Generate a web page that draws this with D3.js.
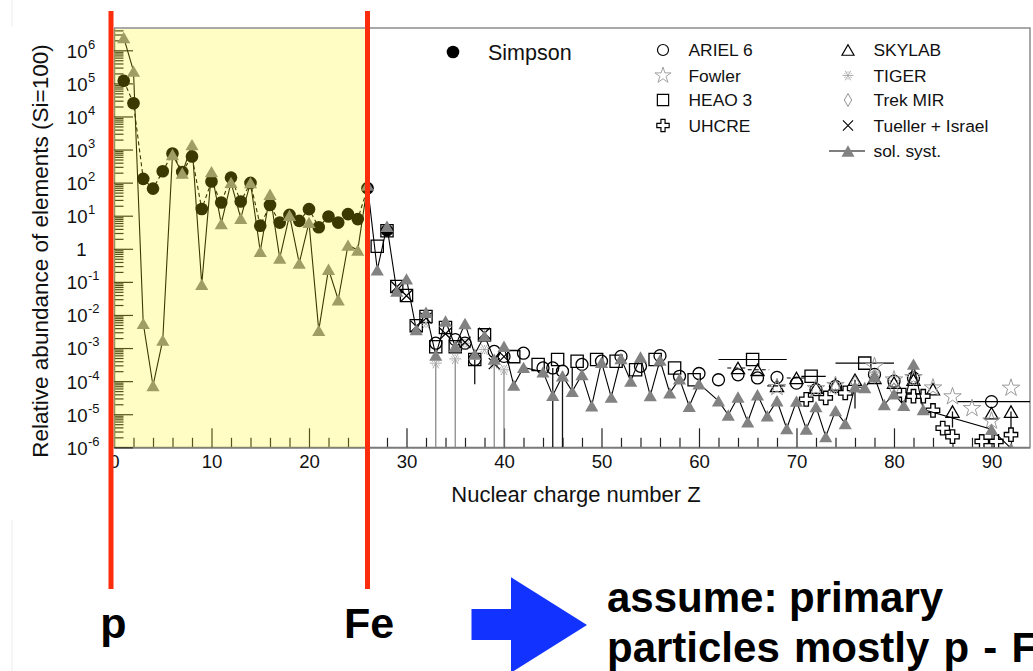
<!DOCTYPE html>
<html>
<head>
<meta charset="utf-8">
<script src="https://cdn.jsdelivr.net/npm/d3@7"></script>
<style>
  body { margin: 0; background: #fff; }
  svg { display: block; font-family: "Liberation Sans", Arial, Helvetica, sans-serif; }
</style>
</head>
<body>
<svg id="chart" width="1033" height="671"></svg>
<script>
// ---- data: abundances relative to Si = 100, as [Z, value] ----
const simpson = [[1,1.2e5],[2,2.5e4],[3,130],[4,66],[5,220],[6,760],[7,210],[8,620],[9,16],[10,108],
  [11,25],[12,142],[13,27],[14,98],[15,5.0],[16,21],[17,6.2],[18,10.6],[19,7.0],[20,15.8],
  [21,4.5],[22,9.5],[23,6.2],[24,11.2],[25,7.9],[26,68],[28,3.6]];

const solarSystem = [[1,2.43e6],[2,2.34e5],[3,5.55e-3],[4,7.37e-5],[5,1.73e-3],[6,708],[7,195],[8,1410],
  [9,0.0841],[10,215],[11,5.75],[12,102],[13,8.41],[14,100],[15,0.837],[16,44.5],[17,0.524],[18,10.3],
  [19,0.369],[20,6.29],[21,3.42e-3],[22,0.242],[23,0.0288],[24,1.29],[25,0.917],[26,83.8],[27,0.232],
  [28,4.78],[29,0.0527],[30,0.123],[31,3.6e-3],[32,0.0121],[33,6.09e-4],[34,6.58e-3],[35,1.13e-3],
  [36,5.52e-3],[37,6.57e-4],[38,2.36e-3],[39,4.61e-4],[40,1.13e-3],[41,7.55e-5],[42,2.6e-4],[44,1.9e-4],
  [45,3.71e-5],[46,1.44e-4],[47,4.91e-5],[48,1.58e-4],[49,1.81e-5],[50,3.73e-4],[51,3.29e-5],[52,4.82e-4],
  [53,9.98e-5],[54,5.39e-4],[55,3.67e-5],[56,4.35e-4],[57,4.41e-5],[58,1.17e-4],[59,1.74e-5],[60,8.36e-5],
  [62,2.54e-5],[63,9.51e-6],[64,3.32e-5],[65,5.91e-6],[66,3.86e-5],[67,8.99e-6],[68,2.55e-5],[69,3.7e-6],
  [70,2.48e-5],[71,3.57e-6],[72,1.7e-5],[73,2.1e-6],[74,1.28e-5],[75,5.25e-6],[76,6.74e-5],[77,6.45e-5],
  [78,1.36e-4],[79,1.96e-5],[80,4.13e-5],[81,1.85e-5],[82,3.26e-4],[83,1.39e-5],[90,3.51e-6],[92,9.31e-7]];

const heao3 = [[27,1.2],[28,3.5],[29,0.073],[30,0.039],[31,4.7e-3],[32,9e-3],[33,1.1e-3],[34,4.2e-3],
  [35,1.1e-3],[37,4.5e-4],[38,2.5e-3],[41,5.5e-4],[43.5,3.2e-4],[45.5,4.5e-4],[47.5,4.0e-4],[49.5,4.5e-4],
  [51.5,4.0e-4],[53.5,2.2e-4],[55.5,4.5e-4],[57.5,2.5e-4],[59.5,1.1e-4],[65.5,4.5e-4],[71.5,1.4e-4],[77,3.5e-4]];

const ariel6 = [[33,1.4e-3],[35,1.8e-3],[36,1.4e-3],[37,4.5e-4],[39,7.9e-4],[40,5.6e-4],[42,7e-4],[44,2.5e-4],
  [45,2.5e-4],[46,2e-4],[48,3.2e-4],[50,4e-4],[52,5.6e-4],[54,2.8e-4],[56,5.9e-4],[58,1.4e-4],[60,1.7e-4],
  [62,1.1e-4],[64,1.55e-4],[66,1.25e-4],[68,1.3e-4],[70,8.7e-5],[72,5.5e-5],[74,6.9e-5],[78,1.6e-4],
  [80,1e-4],[82,1.25e-4],[90,2.4e-5]];

const skylab = [[64,2.5e-4],[66,2.2e-4],[68,7.2e-5],[70,1.25e-4],[72,6.3e-5],[74,7.9e-5],[76,1.1e-4],
  [78,1.25e-4],[80,9e-5],[82,1.1e-4],[84,5.7e-5],[86,1.2e-5],[90,1.07e-5],[92,1.2e-5]];

const fowler = [[68,6.5e-5],[72,6e-5],[74,7.5e-5],[78,2.8e-4],[80,1.1e-4],[82,1.3e-4],[84,6.3e-5],
  [86,3.4e-5],[88,1.5e-5],[90,6.3e-6],[92,6.2e-5]];

const tiger = [[32,5.6e-3],[33,3.5e-4],[35,4.7e-4],[36,1.4e-3],[38,9e-4],[39,3.4e-4],[40,2.2e-4]];

const trekMir = [[74,6.5e-5],[76,9e-5],[78,1.4e-4],[80,5.5e-5],[82,1.2e-4]];

const tuellerIsrael = [[29,0.07],[30,0.038],[31,4.5e-3],[32,8e-3],[34,2.7e-3],[36,1.5e-3],[38,2.8e-3],
  [39,3.4e-4],[40,5.5e-4]];

const uhcre = [[71,2.8e-5],[73,3.1e-5],[75,4.4e-5],[81,3.8e-5],[82,3.5e-5],[83,3.5e-5],[84,1.3e-5],
  [85,3.8e-6],[86,2.1e-6],[89,1.5e-6],[90.5,1.5e-6],[92,2.4e-6]];

// charge-bin widths [Zfrom, Zto, value]
const binBars = [[62,69,4.5e-4],[70.5,73,1.4e-4],[74,80,3.5e-4],[86.5,95,2.4e-5]];
const binBarsDashed = [[62.9,65,2.5e-4],[65,67.2,2.2e-4],[67,69,7.2e-5],[69,71,1.25e-4]];
// upper limits reaching the axis [Z, value]
const limitsGray = [[33,3.5e-4],[35,4.7e-4],[39,3.4e-4],[40,2.2e-4]];
const limitsBlack = [[45,2.5e-4],[46,2e-4]];
// vertical error bars [Z, top, bottom]
const errorBars = [[37,4.5e-4,8e-5],[44,2.5e-4,1.3e-4],[47,2.6e-4,5e-5],[76,1.1e-4,1.5e-5],[86,1.2e-5,4e-6],[92,1.2e-5,3.5e-6]];

const xMajorTicks = [0,10,20,30,40,50,60,70,80,90];
const decades = d3.range(-6, 7);

// ---- layout ----
const svg = d3.select("#chart");
const L = 114, R = 1030, T = 28, B = 447.3;
const x = d3.scaleLinear().domain([0, 93.95]).range([L, R]);
const y = d3.scaleLog().domain([1e-6, 4.72e6]).range([B, T]);
const zFe = 26;

// faint page edge
svg.append("line").attr("x1",12).attr("x2",12).attr("y1",0).attr("y2",27).attr("stroke","#ececec");
svg.append("line").attr("x1",12).attr("x2",12).attr("y1",520).attr("y2",671).attr("stroke","#ececec");

// frame (top and right)
svg.append("path").attr("d", `M${L},${T}H${R}V${B}`).attr("fill","none").attr("stroke","#8c8c8c").attr("stroke-width",1.5);

// axes
const tickCol = "#222";
const xMinor = d3.range(2, 93, 2).filter(d => d % 10 !== 0);
const gxMinor = svg.append("g").attr("transform", `translate(0,${B})`)
  .call(d3.axisBottom(x).tickValues(xMinor).tickSize(-9.5).tickSizeOuter(0).tickFormat(""));
gxMinor.select(".domain").remove();
const gx = svg.append("g").attr("transform", `translate(0,${B})`)
  .call(d3.axisBottom(x).tickValues(xMajorTicks).tickSize(-19).tickSizeOuter(0).tickPadding(7).tickFormat(d3.format("d")));
gx.select(".domain").attr("stroke","#7a7a7a").attr("stroke-width",2);
gx.selectAll("text").attr("font-size", 18.6).attr("fill","#111").attr("font-family","Liberation Sans, Arial, sans-serif");

const yMajor = decades.map(e => Math.pow(10, e));
const yMinor = [];
decades.forEach(e => { for (let k = 2; k <= 9; k++) { const v = k * Math.pow(10, e); if (v < 4.72e6) yMinor.push(v); } });
const gyMinor = svg.append("g").attr("transform", `translate(${L},0)`)
  .call(d3.axisLeft(y).tickValues(yMinor).tickSize(-9.5).tickSizeOuter(0).tickFormat(""));
gyMinor.select(".domain").remove();
const gy = svg.append("g").attr("transform", `translate(${L},0)`)
  .call(d3.axisLeft(y).tickValues(yMajor).tickSize(-19).tickSizeOuter(0).tickFormat(""));
gy.select(".domain").attr("stroke","#7a7a7a").attr("stroke-width",1.5);
svg.selectAll(".tick line").attr("stroke", tickCol).attr("stroke-width", 1.2);

// y tick labels as powers of ten
const yl = svg.append("g").attr("fill","#111");
decades.forEach(e => {
  const yy = y(Math.pow(10, e));
  if (e === 0) {
    yl.append("text").attr("x", 86.5).attr("y", yy + 7).attr("text-anchor","end").attr("font-size",18.6).text("1");
  } else {
    yl.append("text").attr("x", 87.5).attr("y", yy + 7.4).attr("text-anchor","end").attr("font-size",18.6).text("10");
    yl.append("text").attr("x", 88).attr("y", yy - 1.6).attr("font-size",13).text(e < 0 ? "-" + (-e) : String(e));
  }
});

// axis titles
svg.append("text").attr("transform","translate(48,251) rotate(-90)").attr("text-anchor","middle")
  .attr("font-size",22.5).attr("fill","#111").text("Relative abundance of elements (Si=100)");
svg.append("text").attr("x",576).attr("y",502).attr("text-anchor","middle")
  .attr("font-size",22).attr("fill","#111").text("Nuclear charge number Z");

// ---- marker shapes ----
const shape = {
  simpson: d3.symbol(d3.symbolCircle, 125)(),
  circle: d3.symbol(d3.symbolCircle, 113)(),
  square: d3.symbol(d3.symbolSquare, 150)(),
  triangle: d3.symbol(d3.symbolTriangle, 75)(),
  star: d3.symbol(d3.symbolStar, 95)(),
  cross: d3.symbol(d3.symbolCross, 100)(),
  diamond: "M0,-7L4,0L0,7L-4,0Z",
  x: "M-5.5,-5.5L5.5,5.5M5.5,-5.5L-5.5,5.5",
  flake: (() => {
    let p = "";
    [0, 60, 120].forEach(a => {
      const r = a * Math.PI / 180, c = Math.cos(r) * 6, s = Math.sin(r) * 6;
      p += `M${-c},${-s}L${c},${s}`;
    });
    [30, 90, 150, 210, 270, 330].forEach(a => {
      const r = a * Math.PI / 180;
      p += `M${Math.cos(r) * 3},${Math.sin(r) * 3}L${Math.cos(r) * 4.5},${Math.sin(r) * 4.5}`;
    });
    return p;
  })()
};
const style = {
  simpson: { d: shape.simpson, fill: "#000", stroke: "none", sw: 0, dy: 0 },
  ariel: { d: shape.circle, fill: "none", stroke: "#000", sw: 1.3, dy: 0 },
  heao: { d: shape.square, fill: "none", stroke: "#000", sw: 1.3, dy: 0 },
  skylab: { d: shape.triangle, fill: "none", stroke: "#000", sw: 1.3, dy: 1.9 },
  fowler: { d: shape.star, fill: "none", stroke: "#9a9a9a", sw: 1, dy: 0 },
  tiger: { d: shape.flake, fill: "none", stroke: "#a8a8a8", sw: 1, dy: 0 },
  trek: { d: shape.diamond, fill: "none", stroke: "#8a8a8a", sw: 1, dy: 0 },
  tueller: { d: shape.x, fill: "none", stroke: "#000", sw: 1.2, dy: 0 },
  uhcre: { d: shape.cross, fill: "#fff", stroke: "#000", sw: 1.3, dy: 0 },
  sol: { d: shape.triangle, fill: "#828282", stroke: "none", sw: 0, dy: 1.9 }
};
function markers(g, data, key) {
  const s = style[key];
  g.selectAll(null).data(data).join("path")
    .attr("d", s.d)
    .attr("transform", d => `translate(${x(d[0])},${y(d[1]) + s.dy})`)
    .attr("fill", s.fill).attr("stroke", s.stroke).attr("stroke-width", s.sw);
}

// ---- plot content ----
svg.append("clipPath").attr("id","plotclip").append("rect")
  .attr("x", L).attr("y", T).attr("width", R - L).attr("height", B - T);
const plot = svg.append("g").attr("clip-path","url(#plotclip)");

// error bars
plot.selectAll(null).data(binBars).join("line")
  .attr("x1", d => x(d[0])).attr("x2", d => x(d[1])).attr("y1", d => y(d[2])).attr("y2", d => y(d[2]))
  .attr("stroke","#000").attr("stroke-width",1.2);
plot.selectAll(null).data(binBarsDashed).join("line")
  .attr("x1", d => x(d[0])).attr("x2", d => x(d[1])).attr("y1", d => y(d[2])).attr("y2", d => y(d[2]))
  .attr("stroke","#000").attr("stroke-width",1.1).attr("stroke-dasharray","4,3");
plot.selectAll(null).data(limitsGray).join("line")
  .attr("x1", d => x(d[0])).attr("x2", d => x(d[0])).attr("y1", d => y(d[1])).attr("y2", B)
  .attr("stroke","#8c8c8c").attr("stroke-width",1.3);
plot.selectAll(null).data(limitsBlack).join("line")
  .attr("x1", d => x(d[0])).attr("x2", d => x(d[0])).attr("y1", d => y(d[1])).attr("y2", B)
  .attr("stroke","#111").attr("stroke-width",1.3);
plot.selectAll(null).data(errorBars).join("line")
  .attr("x1", d => x(d[0])).attr("x2", d => x(d[0])).attr("y1", d => y(d[1])).attr("y2", d => y(d[2]))
  .attr("stroke","#111").attr("stroke-width",1.3);

// Simpson: dashed connection between consecutive charges
const simpsonRuns = [];
simpson.forEach((d, i) => {
  if (i === 0 || d[0] - simpson[i - 1][0] > 1) simpsonRuns.push([]);
  simpsonRuns[simpsonRuns.length - 1].push(d);
});
const lineGen = d3.line().x(d => x(d[0])).y(d => y(d[1]));
plot.selectAll(null).data(simpsonRuns).join("path")
  .attr("d", lineGen).attr("fill","none").attr("stroke","#000").attr("stroke-width",1.1).attr("stroke-dasharray","4,3");
markers(plot, simpson, "simpson");

markers(plot, heao3, "heao");
markers(plot, ariel6, "ariel");
markers(plot, skylab, "skylab");
markers(plot, trekMir, "trek");
markers(plot, fowler, "fowler");
markers(plot, tiger, "tiger");
markers(plot, tuellerIsrael, "tueller");
markers(plot, uhcre, "uhcre");

// solar system abundances
plot.append("path").datum(solarSystem).attr("d", lineGen)
  .attr("fill","none").attr("stroke","#000").attr("stroke-width",1.1);
markers(plot, solarSystem, "sol");

// highlighted range H ... Fe
svg.append("rect").attr("x", L).attr("y", T + 1).attr("width", x(zFe) - L).attr("height", B - T - 1)
  .attr("fill","#fff300").attr("fill-opacity",0.23);

// ---- legend ----
const lg = svg.append("g").attr("fill","#111");
lg.append("path").attr("d", shape.simpson).attr("transform","translate(453,52)").attr("fill","#000");
lg.append("text").attr("x",488).attr("y",59.5).attr("font-size",21.5).text("Simpson");
const legendRows = [
  ["ariel", "ARIEL 6", 663, 50], ["fowler", "Fowler", 663, 75.5], ["heao", "HEAO 3", 663, 100], ["uhcre", "UHCRE", 663, 125.5],
  ["skylab", "SKYLAB", 848, 50], ["tiger", "TIGER", 848, 75.5], ["trek", "Trek MIR", 848, 100], ["tueller", "Tueller + Israel", 848, 125.5],
  ["sol", "sol. syst.", 848, 151]
];
legendRows.forEach(([key, label, sx, sy]) => {
  const s = style[key];
  if (key === "sol") lg.append("line").attr("x1", sx - 19).attr("x2", sx + 17).attr("y1", sy).attr("y2", sy).attr("stroke","#000").attr("stroke-width",1.1);
  const scale = key === "sol" ? 1 : 0.92;
  lg.append("path").attr("d", s.d).attr("transform", `translate(${sx},${sy + s.dy * scale}) scale(${scale})`)
    .attr("fill", s.fill).attr("stroke", s.stroke).attr("stroke-width", s.sw);
  lg.append("text").attr("x", sx + 25.5).attr("y", sy + 6.2).attr("font-size", 17.4).text(label);
});

// ---- markers for p and Fe ----
[[0, "p", 113.5], [zFe, "Fe", 369]].forEach(([z, label, tx]) => {
  const xx = z === 0 ? 111 : x(z);
  svg.append("line").attr("x1", xx).attr("x2", xx).attr("y1", 11).attr("y2", 589)
    .attr("stroke","#fb2d0c").attr("stroke-width",5);
  svg.append("text").attr("x", tx).attr("y", 638).attr("text-anchor","middle")
    .attr("font-size",43).attr("font-weight","bold").attr("fill","#000").text(label);
});

// arrow and conclusion
svg.append("path").attr("d","M471.5,609H511V577.3L587,625L511,672.7V640H471.5Z").attr("fill","#1233ff");
const conc = svg.append("g").attr("font-size",42).attr("font-weight","bold").attr("fill","#000");
conc.append("text").attr("x",607).attr("y",611.7).text("assume: primary");
conc.append("text").attr("x",607).attr("y",661.7).attr("word-spacing",2.5).text("particles mostly p - Fe");
</script>
</body>
</html>
